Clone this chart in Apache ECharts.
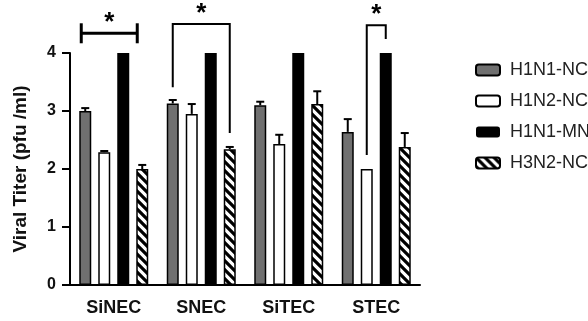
<!DOCTYPE html>
<html><head><meta charset="utf-8">
<script src="https://cdn.jsdelivr.net/npm/echarts@6/dist/echarts.min.js"></script>
<style>html,body{margin:0;padding:0;background:#fff}#c{width:588px;height:321px}</style>
</head><body><div id="c"></div>
<script>
// ---- data ----
const categories = ['SiNEC', 'SNEC', 'SiTEC', 'STEC'];
const seriesNames = ['H1N1-NC', 'H1N2-NC', 'H1N1-MN', 'H3N2-NC'];
const h1n1nc = [3.0, 3.13, 3.1, 2.64];
const h1n2nc = [2.29, 2.95, 2.43, 2.0];
const h1n1mn = [4, 4, 4, 4];
const h3n2nc = [2.0, 2.34, 3.12, 2.38];
const h1n1ncErr = [0.05, 0.06, 0.06, 0.22];
const h1n2ncErr = [0.02, 0.17, 0.16, 0];
const h1n1mnErr = [0, 0, 0, 0];
const h3n2ncErr = [0.07, 0.04, 0.22, 0.24];
const yTicks = [0, 1, 2, 3, 4];
const yAxisTitle = 'Viral Titer (pfu /ml)';
// significance brackets: category index, compared series, bracket level, feet levels
const brackets = [
  { cat: 0, from: 0, to: 3, top: 4.34, kind: 'capped' },
  { cat: 1, from: 0, to: 3, top: 4.5, leftFoot: 3.41, rightFoot: 2.62, kind: 'open' },
  { cat: 3, from: 1, to: 2, top: 4.48, leftFoot: 2.24, rightFoot: 4.24, kind: 'open' }
];
const sigMark = '*';

// ---- style ----
const FONT = "'Liberation Sans', Arial, sans-serif";
const BAR_W = 12, BAR_GAP = 7;
const values = [h1n1nc, h1n2nc, h1n1mn, h3n2nc];
const errs = [h1n1ncErr, h1n2ncErr, h1n1mnErr, h3n2ncErr];

function hatch() {
  const s = 9;
  const c = document.createElement('canvas');
  c.width = s; c.height = s;
  const g = c.getContext('2d');
  g.fillStyle = '#fff'; g.fillRect(0, 0, s, s);
  g.strokeStyle = '#000'; g.lineWidth = 3.2;
  g.beginPath();
  for (let k = -1; k <= 1; k++) { g.moveTo(k * s - 2, -2); g.lineTo(k * s + s + 2, s + 2); }
  g.stroke();
  return c;
}
const fills = [
  { color: '#707070', borderColor: '#000', borderWidth: 1.5 },
  { color: '#ffffff', borderColor: '#000', borderWidth: 1.5 },
  { color: '#000000', borderColor: '#000', borderWidth: 0 },
  { color: { image: hatch(), repeat: 'repeat' }, borderColor: '#000', borderWidth: 1.5 }
];

function slotX(api, cat, s) {
  const c = api.coord([cat, 0]);
  return c[0] + (s - 1.5) * (BAR_W + BAR_GAP);
}

const errData = [];
values.forEach((arr, si) => arr.forEach((v, ci) => {
  if (errs[si][ci] > 0) errData.push([ci, v + errs[si][ci], si, v]);
}));

const barSeries = values.map((arr, i) => ({
  type: 'bar', name: seriesNames[i], data: arr,
  barWidth: BAR_W, barGap: (BAR_GAP / BAR_W * 100) + '%',
  itemStyle: fills[i], emphasis: { disabled: true }, z: 2
}));

const chart = echarts.init(document.getElementById('c'), null, { renderer: 'canvas' });
chart.setOption({
  animation: false,
  backgroundColor: '#fff',
  textStyle: { fontFamily: FONT },
  grid: { left: 70, right: 168, top: 53, bottom: 36 },
  legend: {
    data: seriesNames, orient: 'vertical', left: 470, top: 55,
    itemWidth: 24, itemHeight: 11, itemGap: 11,
    textStyle: { fontFamily: FONT, fontSize: 18, color: '#222', lineHeight: 20, padding: [0, 0, 0, 5] }
  },
  xAxis: {
    type: 'category', data: categories,
    axisLine: { lineStyle: { color: '#000', width: 2 } },
    axisTick: { alignWithLabel: true, length: 6, lineStyle: { color: '#000', width: 2 } },
    axisLabel: { fontFamily: FONT, fontSize: 18, fontWeight: 'bold', color: '#111', margin: 14 }
  },
  yAxis: {
    type: 'value', min: yTicks[0], max: yTicks[yTicks.length - 1], interval: 1,
    name: yAxisTitle, nameLocation: 'middle', nameGap: 40,
    nameTextStyle: { fontFamily: FONT, fontSize: 19, fontWeight: 'bold', color: '#111' },
    axisLine: { show: true, lineStyle: { color: '#000', width: 2 } },
    axisTick: { show: true, length: 8, lineStyle: { color: '#000', width: 2 } },
    axisLabel: { fontFamily: FONT, fontSize: 16, fontWeight: 'bold', color: '#111', margin: 14 },
    splitLine: { show: false }
  },
  series: barSeries.concat([
    {
      type: 'custom', name: 'err', data: errData, z: 3, silent: true,
      encode: { x: 0, y: 1 },
      renderItem(params, api) {
        const ci = api.value(0), si = api.value(2);
        const x = slotX(api, ci, si);
        const yHi = api.coord([ci, api.value(1)])[1];
        const yLo = api.coord([ci, api.value(3)])[1];
        const st = { stroke: '#000', lineWidth: 2 };
        return { type: 'group', children: [
          { type: 'line', shape: { x1: x, y1: yLo, x2: x, y2: yHi }, style: st },
          { type: 'line', shape: { x1: x - 4, y1: yHi, x2: x + 4, y2: yHi }, style: st }
        ] };
      }
    },
    {
      type: 'custom', name: 'sig', z: 4, silent: true, clip: false,
      data: brackets.map((b, i) => [b.cat, b.top, i]),
      encode: { x: 0, y: 1 },
      renderItem(params, api) {
        const b = brackets[api.value(2)];
        const yTop = api.coord([b.cat, b.top])[1];
        const children = [];
        let xl, xr;
        if (b.kind === 'capped') {
          xl = slotX(api, b.cat, b.from) - BAR_W / 2 + 2;
          xr = slotX(api, b.cat, b.to) - BAR_W / 2 + 1;
          const st = { stroke: '#000', lineWidth: 3 };
          children.push(
            { type: 'line', shape: { x1: xl, y1: yTop, x2: xr, y2: yTop }, style: st },
            { type: 'line', shape: { x1: xl, y1: yTop - 10, x2: xl, y2: yTop + 10 }, style: st },
            { type: 'line', shape: { x1: xr, y1: yTop - 10, x2: xr, y2: yTop + 10 }, style: st }
          );
        } else {
          xl = slotX(api, b.cat, b.from);
          xr = slotX(api, b.cat, b.to);
          const yl = api.coord([b.cat, b.leftFoot])[1];
          const yr = api.coord([b.cat, b.rightFoot])[1];
          children.push({ type: 'polyline', shape: { points: [[xl, yl], [xl, yTop], [xr, yTop], [xr, yr]] },
            style: { stroke: '#000', lineWidth: 2, fill: null } });
        }
        children.push({ type: 'text', x: (xl + xr) / 2, y: yTop - 10,
          style: { text: sigMark, fontFamily: FONT, fontSize: 26, fontWeight: 'bold', fill: '#000',
            align: 'center', verticalAlign: 'middle' } });
        return { type: 'group', children };
      }
    }
  ])
});
</script></body></html>
